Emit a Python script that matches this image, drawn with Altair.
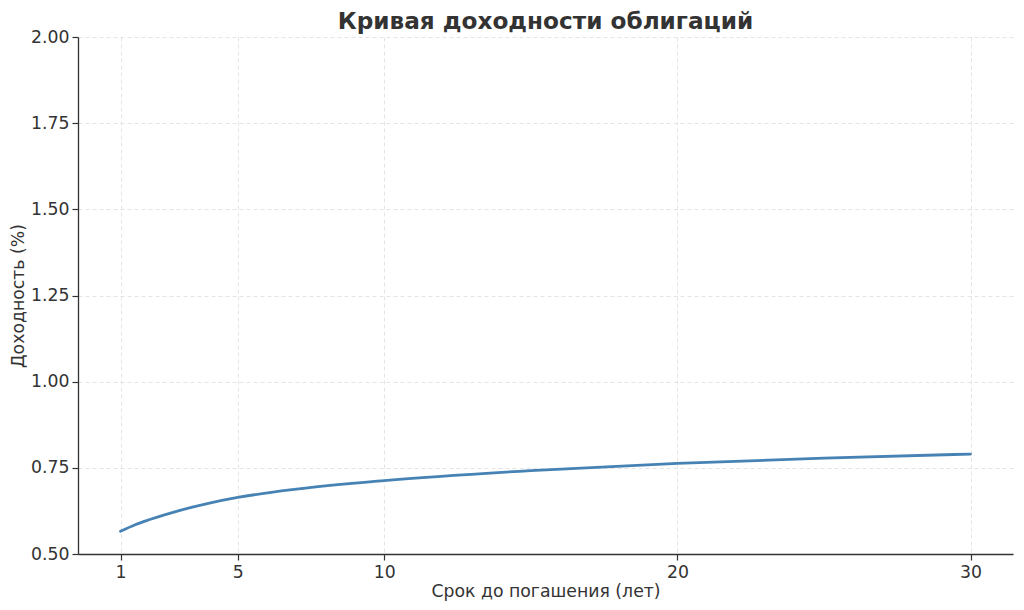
import altair as alt
import pandas as pd

# Data
years = [1, 1.5, 2, 3, 4, 5, 7, 10, 15, 20, 25, 30]
yields = [0.566, 0.585, 0.600, 0.626, 0.647, 0.664, 0.688, 0.713, 0.742, 0.763, 0.778, 0.790]
x_ticks = [1, 5, 10, 20, 30]
y_ticks = [0.5, 0.75, 1.0, 1.25, 1.5, 1.75, 2.0]

df = pd.DataFrame({"years": years, "yield": yields})

FONT = "DejaVu Sans"
TXT = "#333333"

chart = alt.Chart(df).mark_line(
    color="#4682b4", strokeWidth=2.8, interpolate="monotone", strokeCap="round"
).encode(
    x=alt.X(
        "years:Q",
        scale=alt.Scale(domain=[-0.45, 31.45], nice=False, zero=False),
        axis=alt.Axis(
            values=x_ticks,
            title="Срок до погашения (лет)",
            format="d",
            titlePadding=2,
        ),
    ),
    y=alt.Y(
        "yield:Q",
        scale=alt.Scale(domain=[0.5, 2.0], nice=False, zero=False),
        axis=alt.Axis(
            values=y_ticks,
            title="Доходность (%)",
            format=".2f",
            titlePadding=3,
        ),
    ),
).properties(
    width=935,
    height=517,
    title=alt.TitleParams(
        "Кривая доходности облигаций",
        font=FONT,
        fontSize=23.2,
        fontWeight="bold",
        color=TXT,
        anchor="middle",
        offset=-6,
    ),
    autosize=alt.AutoSizeParams(type="none"),
    padding={"left": 70, "top": 29, "right": 3, "bottom": 48},
).configure_view(
    stroke=None
).configure_axis(
    labelFont=FONT,
    titleFont=FONT,
    labelFontSize=17.3,
    titleFontSize=17.3,
    labelColor=TXT,
    titleColor=TXT,
    titleFontWeight="normal",
    domainColor="#333333",
    domainWidth=1.3,
    tickColor="#333333",
    tickSize=6,
    tickWidth=1.2,
    labelPadding=3,
    grid=True,
    gridColor="#dddddd",
    gridDash=[4, 3],
    gridWidth=0.8,
)

chart.save("out.html", embed_options={"renderer": "svg", "actions": False})
